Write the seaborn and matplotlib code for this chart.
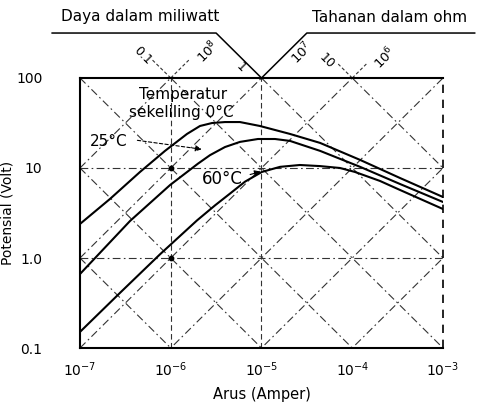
import numpy as np
import pandas as pd
import matplotlib
matplotlib.use("Agg")
import matplotlib.pyplot as plt
import seaborn as sns

# ---- data (current in A, voltage in V) ----
current_0C = [1.0e-7, 2.14e-7, 4.58e-7, 8.65e-7, 1.51e-6, 2.10e-6, 2.85e-6, 3.96e-6,
              5.79e-6, 9.6e-6, 2.06e-5, 4.42e-5, 1.22e-4, 3.36e-4, 1.0e-3]
voltage_0C = [2.39, 4.53, 9.03, 15.5, 23.9, 29.3, 31.6, 32.4,
              32.4, 29.3, 23.9, 19.0, 12.3, 7.74, 4.76]

current_25C = [1.0e-7, 3.56e-7, 9.83e-7, 2.0e-6, 2.71e-6, 3.96e-6, 5.79e-6, 9.14e-6, 1.41e-5,
               2.06e-5, 4.42e-5, 1.22e-4, 3.36e-4, 1.0e-3]
voltage_25C = [0.664, 2.58, 6.47, 11.2, 13.9, 17.1, 19.5, 21.0, 21.0,
               20.0, 15.5, 10.3, 6.64, 4.19]

current_60C = [1.0e-7, 2.76e-7, 7.62e-7, 1.95e-6, 3.08e-6, 4.50e-6, 6.58e-6, 1.01e-5,
               1.60e-5, 2.65e-5, 4.42e-5, 7.33e-5, 1.07e-4, 2.02e-4, 3.36e-4, 1.0e-3]
voltage_60C = [0.151, 0.41, 1.10, 2.62, 3.85, 5.20, 7.05, 9.04,
               10.3, 10.8, 10.5, 10.0, 9.04, 7.18, 5.70, 3.50]

power_levels_W = [1e-7, 1e-6, 1e-5, 1e-4, 1e-3, 1e-2]
resistance_levels_ohm = [1e3, 1e4, 1e5, 1e6, 1e7, 1e8]

x_ticks = [1e-7, 1e-6, 1e-5, 1e-4, 1e-3]
x_tick_labels = [r"$10^{-7}$", r"$10^{-6}$", r"$10^{-5}$", r"$10^{-4}$", r"$10^{-3}$"]
y_ticks = [0.1, 1, 10, 100]
y_tick_labels = ["0.1", "1.0", "10", "100"]
grid_current = [1e-6, 1e-5]
grid_voltage = [1, 10]
dot_current = [1e-6, 1e-6]
dot_voltage = [10, 1]

# ---- style ----
sns.set_style("white")
plt.rcParams["font.family"] = ["DejaVu Sans"]
plt.rcParams["text.color"] = "black"
plt.rcParams["axes.labelcolor"] = "black"
plt.rcParams["xtick.color"] = "black"
plt.rcParams["ytick.color"] = "black"

W, H = 485, 412
fig = plt.figure(figsize=(W / 100, H / 100), dpi=100)
ax = fig.add_axes([80 / W, 1 - 348 / H, 363 / W, 270 / H])
ax.set_xscale("log")
ax.set_yscale("log")

df = pd.concat([
    pd.DataFrame({"I": current_0C, "V": voltage_0C, "T": "0°C"}),
    pd.DataFrame({"I": current_25C, "V": voltage_25C, "T": "25°C"}),
    pd.DataFrame({"I": current_60C, "V": voltage_60C, "T": "60°C"}),
], ignore_index=True)

sns.lineplot(data=df, x="I", y="V", hue="T", palette=["black"] * 3,
             estimator=None, sort=False, legend=False, lw=1.5, ax=ax, zorder=5)

ax.set_xlim(1e-7, 1e-3)
ax.set_ylim(0.1, 100)

dashdot = (0, (7, 3, 1.5, 3))
I_span = np.array([1e-7, 1e-3])
for P in power_levels_W:
    ax.plot(I_span, P / I_span, color="#333333", lw=0.8, ls=dashdot, zorder=2)
for R in resistance_levels_ohm:
    ax.plot(I_span, R * I_span, color="#333333", lw=0.8, ls=dashdot, zorder=2)
for v in grid_voltage:
    ax.axhline(v, color="#333333", lw=0.8, ls=dashdot, zorder=2)
for i in grid_current:
    ax.axvline(i, color="#333333", lw=0.8, ls=(0, (5, 3)), zorder=2)
ax.scatter(dot_current, dot_voltage, s=10, color="black", zorder=6)

# extensions of the guide lines above the plot (to the header labels)
ext = dict(color="#333333", lw=0.8, ls=(0, (3, 2)), clip_on=False)
ax.plot([1e-6, 6.3e-7], [100, 158], **ext)
ax.plot([1e-6, 1.58e-6], [100, 158], **ext)
ax.plot([1e-4, 7.0e-5], [100, 143], **ext)
ax.plot([1e-4, 1.43e-4], [100, 143], **ext)
# header brackets
br = dict(color="black", lw=1.1, clip_on=False)
ax.plot([1e-5, 3.16e-6, 4.9e-8], [100, 316, 316], **br)
ax.plot([1e-5, 3.16e-5, 2.25e-3], [100, 316, 316], **br)

# spines
for s in ["left", "bottom", "top"]:
    ax.spines[s].set_visible(True)
    ax.spines[s].set_linewidth(1.5)
    ax.spines[s].set_color("black")
ax.spines["right"].set_visible(False)
ax.axvline(1e-3, color="black", lw=1.2, ls=(0, (5, 4)), clip_on=False, zorder=6)

ax.set_xticks(x_ticks)
ax.set_xticklabels(x_tick_labels, fontsize=10)
ax.set_yticks(y_ticks)
ax.set_yticklabels(y_tick_labels, fontsize=10)
ax.minorticks_off()
ax.tick_params(axis="both", length=0)
ax.tick_params(axis="x", pad=9)
ax.tick_params(axis="y", pad=27)

ax.set_xlabel("Arus (Amper)", fontsize=10.5)
ax.set_ylabel("Potensial (Volt)", fontsize=10)
ax.xaxis.set_label_coords(0.5, -0.145)
ax.yaxis.set_label_coords(-0.18, 0.5)

# in-plot labels
fig.text(183 / W, 1 - 95 / H, "Temperatur", fontsize=11, ha="center", va="center")
fig.text(181 / W, 1 - 112 / H, "sekeliling 0°C", fontsize=11, ha="center", va="center")
fig.text(109 / W, 1 - 142 / H, "25°C", fontsize=11, ha="center", va="center")
fig.text(222 / W, 1 - 179 / H, "60°C", fontsize=12, ha="center", va="center")
ax.annotate("", xy=(2.35e-6, 16), xytext=(4.0e-7, 20.5),
            arrowprops=dict(arrowstyle="-|>", color="black", lw=0.8,
                            ls=(0, (3, 2)), mutation_scale=9))
ax.annotate("", xy=(1.05e-5, 9.3), xytext=(7.0e-6, 8.3),
            arrowprops=dict(arrowstyle="-|>", color="black", lw=0.8, mutation_scale=9))

# header texts
fig.text(140 / W, 1 - 17 / H, "Daya dalam miliwatt", fontsize=11, ha="center", va="center")
fig.text(390 / W, 1 - 17 / H, "Tahanan dalam ohm", fontsize=11, ha="center", va="center")
fig.text(143 / W, 1 - 56 / H, "0.1", fontsize=9, rotation=-45, ha="center", va="center")
fig.text(208 / W, 1 - 52 / H, r"$10^{8}$", fontsize=9.5, rotation=45, ha="center", va="center")
fig.text(241 / W, 1 - 67 / H, "1", fontsize=9, rotation=-45, ha="center", va="center")
fig.text(302 / W, 1 - 53 / H, r"$10^{7}$", fontsize=9.5, rotation=45, ha="center", va="center")
fig.text(327 / W, 1 - 61 / H, "10", fontsize=9, rotation=-45, ha="center", va="center")
fig.text(385 / W, 1 - 58 / H, r"$10^{6}$", fontsize=9.5, rotation=45, ha="center", va="center")

fig.savefig("out.png", dpi=100)
